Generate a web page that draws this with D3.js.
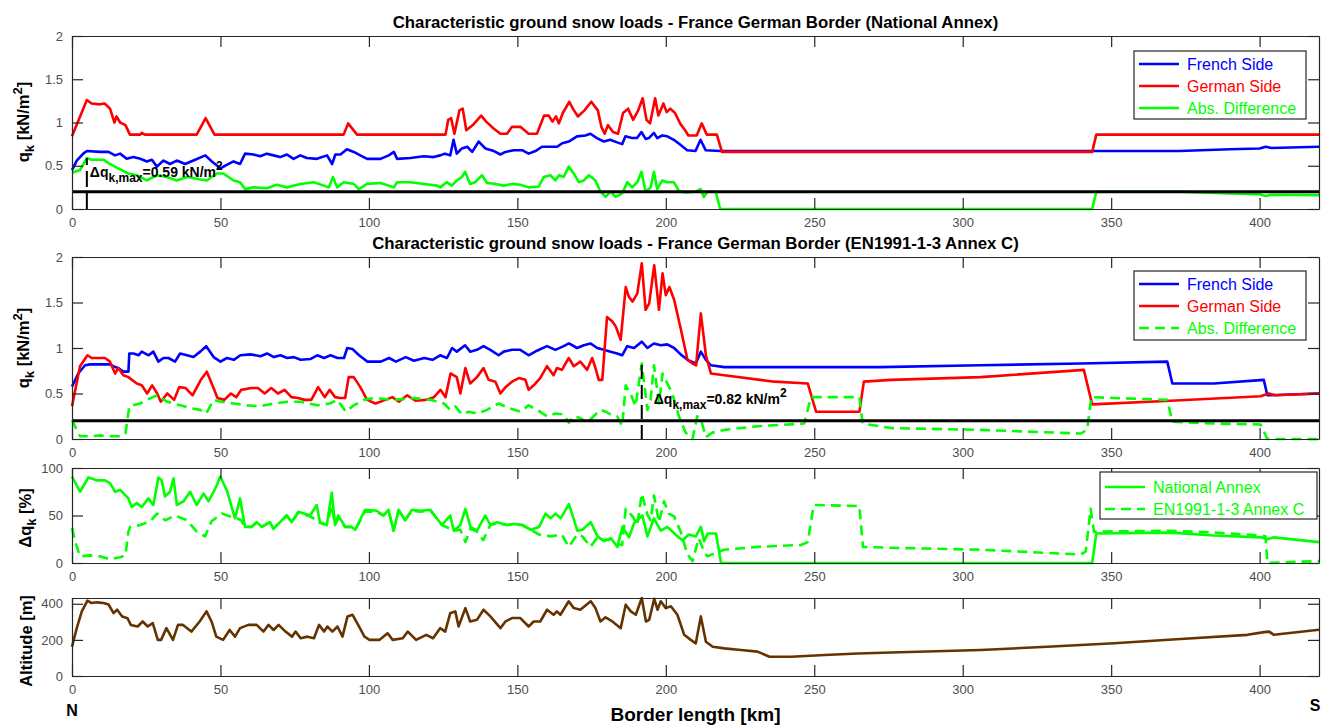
<!DOCTYPE html>
<html>
<head>
<meta charset="utf-8">
<script src="https://cdn.jsdelivr.net/npm/d3@7"></script>
<style>
  body { margin: 0; background: #fff; }
  svg { font-family: "Liberation Sans", Arial, sans-serif; }
</style>
</head>
<body>
<div id="chart"></div>
<script>
// ---- data: [km, value] ----
const kmTicks = [0, 50, 100, 150, 200, 250, 300, 350, 400];
const qTicks = [0, 0.5, 1, 1.5, 2];
const pctTicks = [0, 50, 100];
const altTicks = [0, 200, 400];

const naFrench = [[0,0.45],[1.6,0.56],[3.8,0.64],[5,0.67],[9.4,0.66],[12.3,0.66],[14.5,0.62],[16.2,0.64],[18.4,0.58],[20.7,0.6],[23,0.58],[25.2,0.55],[26.9,0.57],[28.6,0.49],[30.8,0.56],[33,0.52],[35.3,0.56],[38.1,0.52],[40.9,0.56],[44.9,0.62],[47.1,0.55],[50,0.47],[52.1,0.51],[54.4,0.55],[56.6,0.52],[58.3,0.64],[61.1,0.63],[63.4,0.61],[65.6,0.64],[67.9,0.62],[70.1,0.6],[72.4,0.63],[74.6,0.58],[76.9,0.62],[79.1,0.59],[82.5,0.58],[85.9,0.62],[87.6,0.52],[88.7,0.63],[90.4,0.63],[92.6,0.69],[94.9,0.66],[97.1,0.62],[99.4,0.58],[103.9,0.58],[106.7,0.62],[108.4,0.66],[109.5,0.58],[114,0.59],[118.5,0.61],[121.8,0.6],[124,0.62],[125.6,0.64],[127.4,0.62],[128.5,0.8],[129.6,0.64],[131.3,0.7],[133.1,0.72],[134.8,0.66],[137,0.78],[139.2,0.7],[142.1,0.67],[144.3,0.63],[146,0.66],[148.8,0.68],[151.6,0.68],[153.8,0.64],[156.1,0.67],[158.3,0.72],[161.1,0.72],[163.4,0.72],[165.1,0.76],[167.3,0.78],[170.1,0.84],[172.9,0.85],[174.6,0.87],[176.8,0.82],[179.1,0.78],[181.3,0.8],[183.6,0.77],[185.3,0.75],[186.4,0.84],[188.6,0.82],[190.3,0.82],[191.8,0.89],[193.2,0.81],[194.3,0.82],[196,0.88],[197.1,0.82],[198.8,0.85],[200.5,0.84],[202.7,0.8],[205,0.74],[207.2,0.68],[210,0.67],[211.7,0.8],[213.4,0.68],[218.5,0.67],[300,0.67],[345,0.67],[373,0.67],[390,0.69],[400,0.7],[402,0.72],[404,0.705],[420,0.72]];

const naGerman = [[0,0.84],[5,1.26],[6.6,1.22],[9.4,1.21],[11,1.22],[12.8,1.16],[14.3,1.0],[15,1.07],[16.2,1.0],[18,0.97],[19.5,0.86],[23,0.86],[23.5,0.88],[24.5,0.86],[42,0.86],[45,1.05],[48,0.86],[91.5,0.86],[93,0.99],[96,0.86],[125.8,0.86],[126.7,1.03],[127.7,1.05],[128.8,0.87],[130.5,1.14],[131.6,1.16],[132.8,0.91],[135,0.97],[137.8,1.08],[139.5,1.01],[142,0.93],[144.3,0.87],[146.5,0.87],[148.2,0.95],[151,0.95],[153.8,0.87],[156.6,0.87],[159,1.08],[160.6,1.08],[161.8,1.01],[163,1.07],[164,0.99],[165.3,1.11],[167.5,1.24],[168.7,1.16],[170.4,1.07],[172.6,1.14],[174.9,1.24],[177.1,1.14],[178.3,0.95],[179.4,0.87],[180.5,0.97],[182.2,0.89],[183.9,0.87],[185.6,1.11],[187.3,1.16],[189,1.03],[190.7,1.14],[192.2,1.28],[193.5,1.03],[194.7,0.99],[196.4,1.28],[197.5,1.08],[199.2,1.22],[200.3,1.12],[201.5,1.16],[203.1,1.11],[204.8,0.99],[206.5,0.91],[207.6,0.85],[210.4,0.85],[212.1,0.99],[213.8,0.86],[217.2,0.86],[218.9,0.66],[343.6,0.66],[345,0.86],[420,0.86]];

const naDiff = [[0,0.42],[2.7,0.45],[5,0.59],[6.6,0.57],[10.6,0.57],[12.3,0.53],[14.5,0.49],[16.7,0.45],[19,0.41],[21.8,0.39],[25.2,0.33],[28.6,0.39],[31.9,0.37],[35.3,0.33],[38.7,0.37],[42,0.35],[45.4,0.33],[48.8,0.41],[51,0.41],[54.4,0.33],[56.6,0.31],[58.3,0.23],[61.1,0.25],[65.6,0.24],[69,0.28],[72.4,0.25],[76.9,0.29],[81.4,0.31],[84.8,0.27],[86.5,0.25],[87.9,0.37],[89.3,0.25],[91.5,0.31],[94.9,0.29],[96.6,0.23],[99.4,0.29],[103.9,0.3],[108.4,0.25],[109.5,0.31],[114,0.31],[118.5,0.29],[123,0.27],[124,0.25],[126.2,0.31],[127.9,0.27],[129.6,0.33],[131.3,0.37],[132.4,0.43],[134.1,0.29],[135.8,0.31],[138.1,0.39],[139.8,0.3],[142.6,0.29],[145.4,0.27],[148.2,0.29],[151,0.28],[153.8,0.25],[157.2,0.26],[158.9,0.37],[161.1,0.39],[162.8,0.33],[164,0.39],[165.6,0.37],[167.3,0.49],[169,0.41],[170.7,0.31],[172.4,0.33],[174.1,0.39],[176.3,0.33],[178,0.2],[179.7,0.14],[181.4,0.2],[183.1,0.14],[185.3,0.18],[187,0.31],[188.7,0.25],[190.4,0.31],[191.8,0.43],[193.2,0.2],[194.9,0.25],[196,0.43],[197.1,0.23],[198.8,0.33],[200.5,0.31],[202.7,0.31],[204.4,0.21],[206.6,0.19],[210,0.2],[211.7,0.23],[212.8,0.14],[214,0.2],[216.8,0.2],[218.3,0],[343.6,0],[345,0.2],[373,0.2],[390,0.18],[400,0.17],[402,0.15],[404,0.165],[420,0.16]];

const enFrench = [[0,0.575],[2.1,0.72],[4.4,0.81],[6.1,0.82],[12.8,0.82],[14.5,0.79],[15.6,0.78],[17.3,0.74],[19,0.74],[19.3,0.94],[20.7,0.94],[22.4,0.92],[23.5,0.96],[25.8,0.92],[27.4,0.96],[29.1,0.85],[30.8,0.89],[32.5,0.89],[34.7,0.85],[36.4,0.94],[38.7,0.92],[40.9,0.9],[43.2,0.96],[45.2,1.02],[47.7,0.9],[50,0.85],[52.2,0.89],[54.5,0.87],[56.7,0.92],[60.1,0.93],[63.5,0.91],[65.7,0.94],[68,0.9],[70.2,0.92],[72.5,0.89],[74.7,0.9],[77,0.87],[80.4,0.88],[82.6,0.92],[84.9,0.89],[87.1,0.92],[89.4,0.89],[91.6,0.89],[92.7,1.0],[94.4,0.99],[96.7,0.92],[99.5,0.85],[104,0.85],[106.8,0.89],[109.1,0.85],[112.4,0.9],[115.2,0.86],[118.6,0.89],[121.4,0.87],[124,0.92],[126.3,0.89],[128,1.0],[129.6,0.96],[132.4,1.03],[134.1,0.96],[136.4,0.98],[138.6,1.02],[140.9,0.98],[143.7,0.92],[145.4,0.96],[148.2,0.98],[151,0.98],[153.8,0.92],[156.6,0.97],[160,1.02],[162.8,0.98],[165.6,1.02],[167.4,1.05],[170.1,1.0],[172.4,1.03],[174.6,1.05],[176.9,1.0],[179.1,0.98],[181.4,0.96],[183.6,0.94],[185.3,0.92],[187,1.02],[189.3,1.0],[191.9,1.07],[193.8,1.0],[196,1.05],[198.3,1.03],[200.5,1.04],[202.8,1.0],[205,0.93],[207.3,0.87],[210.1,0.83],[211.8,0.96],[213.5,0.87],[215.2,0.81],[219.7,0.79],[272,0.79],[306,0.81],[339.7,0.83],[368.9,0.85],[370.6,0.61],[384.6,0.61],[401.4,0.65],[402.6,0.48],[420,0.5]];

const enGerman = [[0,0.36],[2.7,0.8],[5.2,0.92],[6.6,0.89],[11.1,0.89],[12.8,0.85],[14.5,0.72],[15.6,0.78],[17.3,0.7],[19,0.68],[21.8,0.61],[23.5,0.59],[25.3,0.5],[27,0.59],[28.7,0.5],[29.9,0.41],[32.1,0.5],[34.4,0.43],[36.1,0.57],[38.3,0.56],[40.6,0.48],[43.4,0.65],[45.4,0.74],[47.3,0.59],[49,0.45],[51.3,0.43],[53.5,0.5],[55.3,0.46],[57,0.54],[60.4,0.56],[62.6,0.56],[64.9,0.5],[67.1,0.56],[69.4,0.5],[71.6,0.54],[73.9,0.46],[76.1,0.45],[78.4,0.43],[80.6,0.43],[82.9,0.57],[85.1,0.46],[86.8,0.54],[88.6,0.46],[90.3,0.45],[92,0.45],[93.2,0.68],[94.9,0.68],[97.1,0.57],[99.4,0.43],[102.2,0.39],[105.6,0.43],[107.9,0.46],[110.1,0.41],[112.9,0.48],[115.7,0.42],[119.1,0.43],[121.9,0.46],[124.1,0.54],[125.8,0.46],[127.5,0.72],[129.6,0.68],[130.8,0.5],[132.5,0.78],[134.1,0.61],[136.4,0.68],[138.6,0.78],[140.3,0.65],[142.6,0.63],[144.3,0.5],[146,0.57],[148.2,0.63],[150.5,0.67],[152.7,0.65],[153.8,0.54],[155.5,0.59],[157.7,0.67],[160,0.8],[162.2,0.7],[163.3,0.78],[165,0.76],[167.3,0.89],[169,0.8],[171.2,0.85],[173.5,0.76],[175.2,0.89],[176.3,0.78],[177.4,0.65],[178.6,0.65],[180.2,1.34],[182,1.29],[183.1,1.24],[184.8,1.09],[186.5,1.67],[187.6,1.56],[188.8,1.51],[190.4,1.6],[191.9,1.93],[193.2,1.42],[194.4,1.49],[196.1,1.91],[197.7,1.42],[198.9,1.82],[200,1.58],[201.2,1.67],[202.8,1.53],[205.1,1.2],[207.3,0.87],[209,0.83],[210.2,0.81],[211.8,1.38],[213.5,0.92],[215.2,0.72],[219.7,0.7],[236.6,0.63],[247.8,0.61],[250.6,0.3],[265.2,0.3],[266.7,0.63],[275.9,0.65],[306,0.68],[340.8,0.76],[343.6,0.38],[370,0.42],[400.3,0.47],[403.1,0.5],[405.3,0.48],[420,0.5]];

const enDiff = [[0,0.21],[1,0.14],[2.7,0.03],[6.1,0.03],[9.4,0.04],[12.8,0.03],[16.2,0.03],[18,0.06],[19.3,0.36],[22.9,0.39],[25.2,0.43],[28.6,0.48],[32,0.41],[34.2,0.39],[36.5,0.37],[39.8,0.34],[43.2,0.32],[45.2,0.28],[47.7,0.43],[50,0.41],[54.5,0.39],[59,0.37],[63.5,0.36],[68,0.39],[72.5,0.41],[77,0.41],[82.6,0.37],[86.8,0.39],[89.4,0.43],[92.2,0.3],[94.9,0.37],[98.3,0.43],[101.7,0.45],[108.4,0.43],[115.2,0.45],[120.8,0.43],[125.3,0.39],[127.4,0.32],[129.1,0.36],[131.3,0.27],[133.6,0.3],[136.4,0.28],[139.8,0.32],[143.7,0.39],[147.1,0.34],[151,0.3],[153.8,0.37],[156.6,0.32],[160,0.25],[162.8,0.28],[165.6,0.27],[167.3,0.18],[169,0.25],[171.2,0.23],[173.5,0.18],[175.7,0.25],[178,0.32],[179.7,0.3],[181.4,0.27],[183.6,0.25],[185.3,0.14],[186.5,0.59],[188.1,0.5],[189.8,0.36],[191.9,0.83],[193.8,0.32],[194.9,0.43],[196,0.81],[197.7,0.39],[198.9,0.72],[200.5,0.61],[202.2,0.5],[204.4,0.25],[206.7,0.07],[209,0.0],[210.6,0.25],[211.8,0.22],[213.5,0.02],[215.7,0.07],[219.7,0.1],[230.9,0.14],[246.6,0.17],[248.9,0.46],[265.2,0.46],[266.3,0.17],[275.9,0.12],[306,0.1],[339.7,0.06],[341.9,0.1],[343.3,0.46],[368.9,0.43],[370.6,0.19],[384.6,0.17],[400.3,0.16],[402.6,0.0],[420,0.0]];

const naPct = [[0,91],[2.7,75],[5.5,90],[8.3,87],[11.1,87],[12.8,84],[14.5,75],[16.2,77],[19,68],[20.1,59],[21.8,63],[23.5,59],[25.7,68],[27.4,61],[29.1,90],[30.2,87],[31.3,70],[33,75],[34.2,89],[35.3,61],[37.6,65],[39.8,75],[42,61],[44.3,73],[46,65],[47.7,75],[48.8,82],[49.9,91],[52.1,77],[54.9,47],[56.6,68],[58.3,38],[60.5,38],[62.2,43],[63.9,38],[66.7,43],[67.8,36],[72.3,50],[74,43],[76.2,54],[80.2,50],[82.4,61],[83.5,43],[85.8,40],[87.5,74],[88.6,40],[89.7,50],[92,38],[94.2,38],[95.4,35],[98.7,56],[102.6,55],[104.9,50],[106.6,56],[108.3,34],[110,56],[112.2,45],[114.5,56],[117.3,55],[120.7,56],[124.6,40],[127.4,50],[128.6,34],[130.8,40],[132.5,57],[134.2,38],[136.4,34],[139.2,50],[140.9,40],[143.2,43],[146.5,40],[148.8,41],[151.6,40],[154.5,35],[157.3,38],[159.5,52],[161.2,47],[162.9,52],[164.6,47],[167.4,62],[170.2,34],[171.9,35],[174.7,43],[177,28],[179.2,23],[181.5,26],[183.7,17],[185.4,38],[187.6,27],[189.3,42],[192.1,50],[193.8,28],[196,47],[198.3,34],[200.5,38],[201.6,35],[203.9,28],[205.6,24],[207.8,30],[210.1,28],[211.8,38],[212.9,23],[214.1,31],[216.9,31],[218.6,0],[343.6,0],[345,31],[370,32],[384.6,29],[400.3,27],[402.6,25],[404.8,27],[420,22]];

const enPct = [[0,37],[1,23],[2.7,7],[6.1,8],[9.4,7],[12.8,4],[16.2,6],[18,8],[19,33],[19.6,38],[23,40],[26.4,44],[28.6,52],[31.4,45],[34.7,50],[38.7,45],[42,33],[44.8,28],[47,44],[50.5,52],[53.3,49],[55.6,47],[57,45],[58.3,38],[60.5,38],[62.2,43],[63.9,38],[66.7,43],[67.8,36],[72.3,50],[74,43],[76.2,53],[80.2,49],[82.4,45],[83.5,42],[85.8,40],[87.5,60],[88.6,40],[89.7,48],[92,38],[94.2,38],[95.4,35],[98.7,54],[102.6,54],[104.9,50],[106.6,55],[108.3,34],[110,55],[112.2,45],[114.5,55],[117.3,54],[120.7,55],[124.6,40],[127.4,36],[128.6,34],[130.8,35],[132.5,22],[134.2,36],[136.4,33],[138.5,24],[140.9,40],[143.2,42],[146.5,40],[148.8,41],[151.6,40],[154.5,35],[157.3,30],[159.5,29],[161.2,28],[163,29],[165,30],[167.3,17],[170.2,30],[171.9,28],[174.6,17],[177,27],[179.2,24],[181.5,25],[183.7,20],[185.3,19],[186.5,57],[188.8,49],[190.4,40],[191.9,73],[193.8,51],[194.9,45],[196,71],[197.7,43],[199.4,65],[201,52],[202.8,49],[205,33],[207.3,9],[209,2],[211.1,26],[212.9,12],[214,7],[216.3,10],[219.7,14],[230.9,17],[245.5,19],[247.8,22],[249.8,61],[265.2,60],[266.4,17],[275.9,16],[306,14],[339.7,9],[341.4,12],[343.1,57],[344.2,33],[370,34],[385,32],[400.3,29],[402,28],[402.6,0],[410,1],[420,2]];

const altitude = [[0,162],[1.6,265],[3.3,358],[5.2,417],[6.6,404],[8.3,408],[10.6,404],[12.3,396],[14,348],[15.2,367],[16.9,330],[18.7,320],[19.8,283],[22.1,274],[23.8,302],[25.5,274],[27.2,293],[28.9,200],[30,200],[31.8,265],[34,200],[35.7,283],[37.4,283],[40.2,246],[43,302],[45.3,358],[47,302],[48.6,218],[50.9,200],[53.1,255],[54.9,218],[56.6,265],[59.4,283],[62.2,283],[64.5,246],[66.2,283],[67.9,255],[69.6,283],[71.9,246],[74.1,218],[75.3,246],[77,209],[79.3,218],[81.5,209],[83.2,283],[84.9,246],[86,274],[87.7,246],[89.4,274],[91.1,218],[92.8,330],[94.5,339],[96.7,274],[98.5,218],[100.2,200],[103.5,200],[106.3,237],[108,200],[111.4,209],[113.1,246],[115.9,200],[119.3,228],[121.6,209],[124,265],[125.7,246],[127.4,348],[129.1,358],[130.2,274],[132.5,376],[134.1,302],[136.4,311],[138.6,367],[140.9,330],[144.3,265],[146,302],[148.2,321],[151,321],[153.8,274],[155.5,302],[157.7,302],[160,367],[162.2,339],[163.3,358],[164.5,339],[167.3,414],[169,376],[171.2,367],[174.7,414],[176.3,376],[178,302],[179.7,325],[182,302],[184.8,265],[186.5,395],[188.2,358],[189.9,339],[191.9,432],[193.3,302],[194.4,311],[196.1,428],[197.2,367],[198.3,414],[200,376],[201.7,386],[203.9,339],[206.2,228],[208.4,200],[210.1,181],[211.8,330],[213.5,190],[215.8,162],[219.7,153],[225.3,144],[230.9,135],[234.9,107],[242.2,107],[253.5,116],[264.7,125],[275.9,130],[306,144],[328.5,162],[351,181],[373.4,205],[395.9,228],[401.5,243],[403.2,246],[404.8,228],[420,256]];

const minLoad = 0.2;              // horizontal reference line
const naMax = [5, 0.59];          // [km, kN/m2]
const enMax = [191.9, 0.82];

// ---- layout ----
const W = 1330, H = 726;
const AX = '#262626', TICKTXT = '#4d4d4d';
const BLUE = '#0000ff', RED = '#ff0000', GREEN = '#00ff00', BROWN = '#663300';

const svg = d3.select('#chart').append('svg').attr('width', W).attr('height', H);

const x = d3.scaleLinear().domain([0, 420]).range([72, 1319]);

function mkY(domain, top, bottom) {
  return d3.scaleLinear().domain(domain).range([bottom, top]);
}

function drawAxes(y, top, bottom, yTicks) {
  const g = svg.append('g').attr('class', 'axes');
  const blank = () => '';
  g.append('g').attr('transform', `translate(0,${bottom})`)
    .call(d3.axisBottom(x).tickValues(kmTicks).tickSizeInner(-11).tickSizeOuter(0).tickPadding(9).tickFormat(d => d));
  g.append('g').attr('transform', `translate(0,${top})`)
    .call(d3.axisTop(x).tickValues(kmTicks).tickSizeInner(-11).tickSizeOuter(0).tickFormat(blank));
  g.append('g').attr('transform', `translate(${x.range()[0]},0)`)
    .call(d3.axisLeft(y).tickValues(yTicks).tickSizeInner(-11).tickSizeOuter(0).tickPadding(9).tickFormat(d => String(d)));
  g.append('g').attr('transform', `translate(${x.range()[1]},0)`)
    .call(d3.axisRight(y).tickValues(yTicks).tickSizeInner(-11).tickSizeOuter(0).tickFormat(blank));
  g.selectAll('.domain').attr('stroke', AX).attr('stroke-width', 1.2);
  g.selectAll('.tick line').attr('stroke', AX).attr('stroke-width', 1.2);
  g.selectAll('.tick text').attr('fill', TICKTXT).style('font-size', '13px');
}

function drawLine(data, y, color, dash) {
  svg.append('path')
    .datum(data)
    .attr('fill', 'none')
    .attr('stroke', color)
    .attr('stroke-width', 2.6)
    .attr('stroke-linejoin', 'round')
    .attr('stroke-dasharray', dash || null)
    .attr('d', d3.line().x(d => x(d[0])).y(d => y(d[1])));
}

function drawTitle(text, baseline) {
  svg.append('text')
    .attr('x', (x.range()[0] + x.range()[1]) / 2)
    .attr('y', baseline)
    .attr('text-anchor', 'middle')
    .style('font-size', '16.8px')
    .style('font-weight', 'bold')
    .attr('fill', '#000')
    .text(text);
}

// rotated y label; parts: [text, 'sub'|'sup'|null]
function yLabel(parts, xBase, cy) {
  const t = svg.append('text')
    .attr('transform', `translate(${xBase},${cy}) rotate(-90)`)
    .attr('text-anchor', 'middle')
    .style('font-size', '16.5px')
    .style('font-weight', 'bold')
    .attr('fill', '#000');
  richText(t, parts, 13);
}

function richText(t, parts, small) {
  let shift = 0;
  parts.forEach(([s, kind]) => {
    let target = kind === 'sub' ? 5 : kind === 'sup' ? -7 : 0;
    const sp = t.append('tspan').attr('dy', target - shift).text(s);
    if (kind) sp.style('font-size', small + 'px');
    shift = target;
  });
}

function legend(x0, y0, w, h, rowTop, items) {
  const g = svg.append('g');
  g.append('rect').attr('x', x0).attr('y', y0).attr('width', w).attr('height', h)
    .attr('fill', '#fff').attr('stroke', AX).attr('stroke-width', 1.2);
  items.forEach((it, i) => {
    const cy = y0 + rowTop + i * 22;
    g.append('line').attr('x1', x0 + 5).attr('x2', x0 + 45).attr('y1', cy).attr('y2', cy)
      .attr('stroke', it.color).attr('stroke-width', 2.6).attr('stroke-dasharray', it.dash || null);
    g.append('text').attr('x', x0 + 53).attr('y', cy).attr('dy', '0.36em')
      .style('font-size', '16px').attr('fill', it.color).text(it.label);
  });
}

function annotation(px, py, value) {
  const t = svg.append('text').attr('x', px).attr('y', py)
    .style('font-size', '14px').style('font-weight', 'bold').attr('fill', '#000');
  richText(t, [['\u0394q', null], ['k,max', 'sub'], ['=' + value + ' kN/m', null], ['2', 'sup']], 12);
}

// ---- panel 1: National Annex ----
const y1 = mkY([0, 2], 36, 209);
drawTitle('Characteristic ground snow loads - France German Border (National Annex)', 28);
drawLine(naFrench, y1, BLUE);
drawLine(naGerman, y1, RED);
drawLine(naDiff, y1, GREEN);
svg.append('line').attr('x1', x(0)).attr('x2', x(420)).attr('y1', y1(minLoad)).attr('y2', y1(minLoad))
  .attr('stroke', '#000').attr('stroke-width', 3);
svg.append('line').attr('x1', x(naMax[0])).attr('x2', x(naMax[0])).attr('y1', y1(0)).attr('y2', y1(naMax[1]))
  .attr('stroke', '#000').attr('stroke-width', 2).attr('stroke-dasharray', '16,6');
annotation(x(naMax[0]) + 3, 177, naMax[1]);
drawAxes(y1, 36, 209, qTicks);
yLabel([['q', null], ['k', 'sub'], [' [kN/m', null], ['2', 'sup'], [']', null]], 29, 122);
legend(1134, 51, 172, 68, 13, [
  { label: 'French Side', color: BLUE },
  { label: 'German Side', color: RED },
  { label: 'Abs. Difference', color: GREEN }
]);

// ---- panel 2: EN1991-1-3 Annex C ----
const y2 = mkY([0, 2], 257, 439);
drawTitle('Characteristic ground snow loads - France German Border (EN1991-1-3 Annex C)', 249);
drawLine(enFrench, y2, BLUE);
drawLine(enGerman, y2, RED);
drawLine(enDiff, y2, GREEN, '10,6');
svg.append('line').attr('x1', x(0)).attr('x2', x(420)).attr('y1', y2(minLoad)).attr('y2', y2(minLoad))
  .attr('stroke', '#000').attr('stroke-width', 3);
svg.append('line').attr('x1', x(enMax[0])).attr('x2', x(enMax[0])).attr('y1', y2(0)).attr('y2', y2(enMax[1]))
  .attr('stroke', '#000').attr('stroke-width', 2).attr('stroke-dasharray', '14,6');
annotation(x(enMax[0]) + 12, 404, enMax[1]);
drawAxes(y2, 257, 439, qTicks);
yLabel([['q', null], ['k', 'sub'], [' [kN/m', null], ['2', 'sup'], [']', null]], 29, 348);
legend(1134, 271, 172, 69, 13, [
  { label: 'French Side', color: BLUE },
  { label: 'German Side', color: RED },
  { label: 'Abs. Difference', color: GREEN, dash: '10,6' }
]);

// ---- panel 3: relative difference ----
const y3 = mkY([0, 100], 468, 563);
drawLine(enPct, y3, GREEN, '10,6');
drawLine(naPct, y3, GREEN);
drawAxes(y3, 468, 563, pctTicks);
yLabel([['\u0394q', null], ['k', 'sub'], [' [%]', null]], 31, 518);
legend(1100, 472, 217, 47, 15, [
  { label: 'National Annex', color: GREEN },
  { label: 'EN1991-1-3 Annex C', color: GREEN, dash: '10,6' }
]);

// ---- panel 4: altitude ----
const y4 = mkY([0, 432], 598, 676);
drawLine(altitude, y4, BROWN);
drawAxes(y4, 598, 676, altTicks);
yLabel([['Altitude [m]', null]], 32, 641);

// ---- bottom labels ----
svg.append('text').attr('x', (x.range()[0] + x.range()[1]) / 2).attr('y', 721)
  .attr('text-anchor', 'middle').style('font-size', '19px').style('font-weight', 'bold')
  .text('Border length [km]');
svg.append('text').attr('x', x(0)).attr('y', 716).attr('text-anchor', 'middle')
  .style('font-size', '16px').style('font-weight', 'bold').text('N');
svg.append('text').attr('x', x(420) - 4).attr('y', 711).attr('text-anchor', 'middle')
  .style('font-size', '16px').style('font-weight', 'bold').text('S');
</script>
</body>
</html>
